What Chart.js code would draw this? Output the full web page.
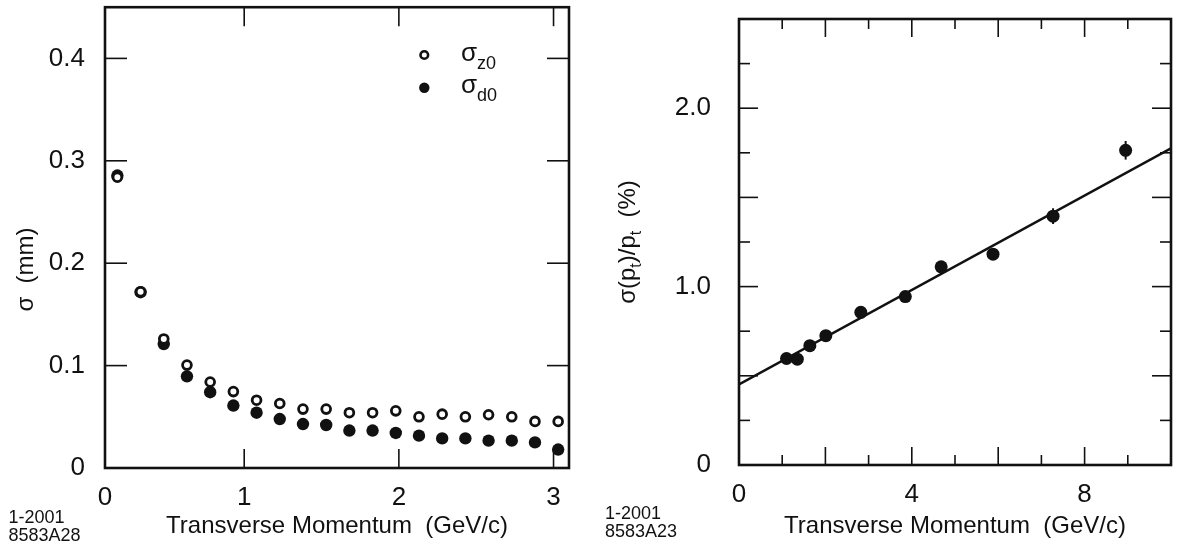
<!DOCTYPE html>
<html><head><meta charset="utf-8">
<script src="https://cdn.jsdelivr.net/npm/chart.js@4.4.0/dist/chart.umd.min.js"></script>
<style>
html,body{margin:0;padding:0;background:#fff;}
#wrap{position:relative;width:1178px;height:548px;overflow:hidden;background:#fff;}
#c1{position:absolute;left:0;top:0;}
#c2{position:absolute;left:590px;top:0;}
</style></head><body>
<div id="wrap"><canvas id="c1" width="590" height="548"></canvas><canvas id="c2" width="588" height="548"></canvas></div>
<script>
// ---- Left panel data: impact parameter resolution vs pT ----
const pT = [0.18,0.33,0.48,0.63,0.78,0.93,1.08,1.23,1.38,1.53,1.68,1.83,1.98,2.13,2.28,2.43,2.58,2.73,2.88,3.03];
const sigmaZ0 = [0.284,0.172,0.126,0.1005,0.084,0.0746,0.0662,0.063,0.0575,0.0575,0.054,0.054,0.0558,0.050,0.0526,0.050,0.052,0.050,0.0455,0.0455];
const sigmaD0 = [0.2856,0.1717,0.121,0.0895,0.074,0.061,0.054,0.0478,0.0429,0.042,0.0366,0.0366,0.0342,0.0316,0.0289,0.0289,0.0267,0.0267,0.025,0.018];
const leftXTicks = [0.1,1,2,3];
const leftXTickLabels = ['0','1','2','3'];
const leftYTicks = [0,0.1,0.2,0.3,0.4];
const leftYTickLabels = ['0','0.1','0.2','0.3','0.4'];
const leftXMarks = [1,2,3];
const leftYMarks = [0.1,0.2,0.3,0.4];

// ---- Right panel data: momentum resolution vs pT ----
const ptR = [1.10,1.35,1.64,2.01,2.82,3.85,4.68,5.88,7.27,8.95];
const resPt = [0.597,0.593,0.669,0.725,0.856,0.944,1.111,1.182,1.395,1.764];
const errPt = [0.01,0.01,0.01,0.01,0.01,0.015,0.02,0.02,0.044,0.052];
const fitX = [0,10];
const fitY = [0.452,1.775];
const rightXTicks = [0,4,8];
const rightXTickLabels = ['0','4','8'];
const rightYTicks = [0,1,2];
const rightYTickLabels = ['0','1.0','2.0'];
const rightXMarks = [1,2,3,4,5,6,7,8,9];
const rightYMarks = [0.25,0.5,0.75,1,1.25,1.5,1.75,2,2.25];

const INK = '#111';
const FONT = "'Liberation Sans', Arial, Helvetica, sans-serif";

function frame(opts){
  return {
    id:'frame',
    afterDraw(chart){
      const {ctx, chartArea:a, scales:{x,y}} = chart;
      ctx.save();
      ctx.strokeStyle = INK; ctx.lineCap='butt';
      ctx.lineWidth = 1.6;
      opts.xMarks.forEach(v=>{
        const px = x.getPixelForValue(v);
        const L = opts.xLen(v);
        ctx.beginPath(); ctx.moveTo(px,a.bottom); ctx.lineTo(px,a.bottom-L); ctx.stroke();
        ctx.beginPath(); ctx.moveTo(px,a.top); ctx.lineTo(px,a.top+L); ctx.stroke();
      });
      opts.yMarks.forEach(v=>{
        const py = y.getPixelForValue(v);
        const L = opts.yLen(v);
        ctx.beginPath(); ctx.moveTo(a.left,py); ctx.lineTo(a.left+L,py); ctx.stroke();
        ctx.beginPath(); ctx.moveTo(a.right,py); ctx.lineTo(a.right-L,py); ctx.stroke();
      });
      ctx.lineWidth = 2.6;
      ctx.strokeRect(a.left,a.top,a.right-a.left,a.bottom-a.top);
      ctx.restore();
    }
  };
}

// text with subscripts: parts = [[text, isSub], ...]
function drawParts(ctx, parts, x, y, size, subSize, subDrop, align){
  let total = 0;
  parts.forEach(p=>{ ctx.font = (p[1]?subSize:size)+'px '+FONT; total += ctx.measureText(p[0]).width; });
  let cx = align==='center' ? x - total/2 : x;
  parts.forEach(p=>{
    ctx.font = (p[1]?subSize:size)+'px '+FONT;
    ctx.fillText(p[0], cx, y + (p[1]?subDrop:0));
    cx += ctx.measureText(p[0]).width;
  });
}

const leftDecor = {
  id:'leftDecor',
  afterDraw(chart){
    const ctx = chart.ctx;
    ctx.save();
    ctx.fillStyle = INK; ctx.textBaseline='alphabetic'; ctx.textAlign='left';
    // legend
    const ds0 = chart.data.datasets[0], ds1 = chart.data.datasets[1];
    ctx.beginPath(); ctx.arc(424.3,55,3.8,0,Math.PI*2);
    ctx.fillStyle='#fff'; ctx.fill(); ctx.lineWidth=2.6; ctx.strokeStyle=ds0.borderColor; ctx.stroke();
    ctx.beginPath(); ctx.arc(424.3,87.7,5.2,0,Math.PI*2); ctx.fillStyle=ds1.backgroundColor; ctx.fill();
    ctx.fillStyle = INK;
    drawParts(ctx, [['σ',false],['z0',true]], 461, 60.5, 26, 18, 8, 'left');
    drawParts(ctx, [['σ',false],['d0',true]], 461, 93, 26, 18, 8, 'left');
    // y title
    ctx.save();
    ctx.translate(33,269.5); ctx.rotate(-Math.PI/2);
    ctx.textAlign='center'; ctx.font='24px '+FONT;
    ctx.fillText('σ  (mm)',0,0);
    ctx.restore();
    // figure id
    ctx.font='18px '+FONT; ctx.textAlign='left';
    ctx.fillText('1-2001',8.5,522.7);
    ctx.fillText('8583A28',8.5,541);
    ctx.restore();
  }
};

const rightDecor = {
  id:'rightDecor',
  beforeDatasetsDraw(chart){
    const {ctx, scales:{x,y}} = chart;
    ctx.save(); ctx.strokeStyle=INK; ctx.lineWidth=2;
    ptR.forEach((v,i)=>{
      const px = x.getPixelForValue(v);
      ctx.beginPath();
      ctx.moveTo(px, y.getPixelForValue(resPt[i]-errPt[i]));
      ctx.lineTo(px, y.getPixelForValue(resPt[i]+errPt[i]));
      ctx.stroke();
    });
    ctx.restore();
  },
  afterDraw(chart){
    const ctx = chart.ctx;
    ctx.save();
    ctx.fillStyle = INK; ctx.textBaseline='alphabetic';
    ctx.save();
    ctx.translate(45,242); ctx.rotate(-Math.PI/2);
    drawParts(ctx, [['σ(p',false],['t',true],[')/p',false],['t',true],['  (%)',false]], 0, 0, 24, 16, 6, 'center');
    ctx.restore();
    ctx.font='18px '+FONT; ctx.textAlign='left';
    ctx.fillText('1-2001',15,519.3);
    ctx.fillText('8583A23',15,537.3);
    ctx.restore();
  }
};

function scaleX(min,max,ticks,labels,h,title){
  return {
    type:'linear', position:'bottom', min, max,
    grid:{display:false, drawTicks:false},
    border:{display:false},
    afterBuildTicks(s){ s.ticks = ticks.map(v=>({value:v})); },
    afterFit(s){ s.height = h; s.paddingLeft = 0; s.paddingRight = 0; },
    ticks:{ color:INK, font:{family:FONT,size:26}, padding:14, maxRotation:0, autoSkip:false,
      callback:(v,i)=>labels[i] },
    title:{ display:true, text:title, color:INK, font:{family:FONT,size:24}, padding:{top:0,bottom:7} }
  };
}
function scaleY(min,max,ticks,labels,w,pad){
  return {
    type:'linear', position:'left', min, max,
    grid:{display:false, drawTicks:false},
    border:{display:false},
    afterBuildTicks(s){ s.ticks = ticks.map(v=>({value:v})); },
    afterFit(s){ s.width = w; s.paddingTop = 0; s.paddingBottom = 0; },
    ticks:{ color:INK, font:{family:FONT,size:26}, padding:pad, autoSkip:false,
      callback:(v,i)=>labels[i] }
  };
}

const common = {
  responsive:false, animation:false, devicePixelRatio:1,
  plugins:{ legend:{display:false}, tooltip:{enabled:false} }
};

new Chart(document.getElementById('c1'), {
  type:'scatter',
  data:{ datasets:[
    { label:'σz0', data:pT.map((v,i)=>({x:v,y:sigmaZ0[i]})), pointStyle:'circle', pointRadius:4.4, borderWidth:2.8,
      borderColor:INK, backgroundColor:'#fff', clip:false },
    { label:'σd0', data:pT.map((v,i)=>({x:v,y:sigmaD0[i]})), pointStyle:'circle', pointRadius:6.2, borderWidth:0,
      borderColor:INK, backgroundColor:INK, clip:false }
  ]},
  options:Object.assign({}, common, {
    layout:{ padding:{left:0,right:21,top:4,bottom:0} },
    scales:{
      x: scaleX(0.1,3.1,leftXTicks,leftXTickLabels,80,'Transverse Momentum  (GeV/c)'),
      y: scaleY(0,0.45,leftYTicks,leftYTickLabels,105,20)
    }
  }),
  plugins:[frame({xMarks:leftXMarks, yMarks:leftYMarks, xLen:()=>19, yLen:()=>22}), leftDecor]
});

new Chart(document.getElementById('c2'), {
  type:'scatter',
  data:{ datasets:[
    { label:'data', data:ptR.map((v,i)=>({x:v,y:resPt[i]})), pointStyle:'circle', pointRadius:6.5, borderWidth:0,
      backgroundColor:INK, borderColor:INK },
    { label:'fit', type:'line', data:fitX.map((v,i)=>({x:v,y:fitY[i]})), borderColor:INK, borderWidth:2.6,
      pointRadius:0, fill:false, tension:0 }
  ]},
  options:Object.assign({}, common, {
    layout:{ padding:{left:0,right:7,top:19,bottom:0} },
    scales:{
      x: scaleX(0,10,rightXTicks,rightXTickLabels,83,'Transverse Momentum  (GeV/c)'),
      y: scaleY(0,2.5,rightYTicks,rightYTickLabels,149,28)
    }
  }),
  plugins:[frame({xMarks:rightXMarks, yMarks:rightYMarks,
    xLen:v=>(v%2===0?18:10), yLen:v=>(Math.abs(v*2-Math.round(v*2))<1e-6?19:11)}), rightDecor]
});
</script>
</body></html>
